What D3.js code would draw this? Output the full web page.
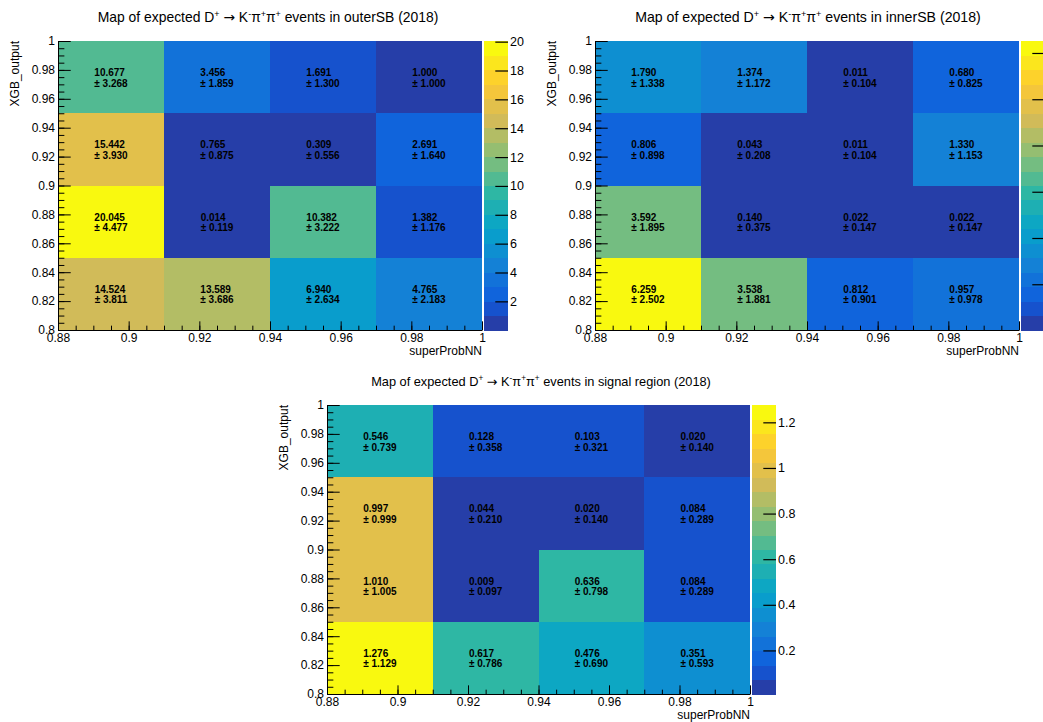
<!DOCTYPE html>
<html>
<head>
<meta charset="utf-8">
<script src="https://cdn.jsdelivr.net/npm/d3@7"></script>
<style>
  html, body { margin: 0; padding: 0; background: #fff; }
  svg { display: block; }
  text { font-family: "Liberation Sans", Arial, Helvetica, sans-serif; }
</style>
</head>
<body>
<svg id="chart" width="1043" height="722"></svg>
<script>
// ---------------- DATA ----------------
const xEdges = [0.88, 0.91, 0.94, 0.97, 1.0];
const yEdges = [0.80, 0.85, 0.90, 0.95, 1.0];

// rows listed from top (0.95-1.0) to bottom (0.80-0.85), columns left to right
const outerVals = [
  [10.677, 3.456, 1.691, 1.000],
  [15.442, 0.765, 0.309, 2.691],
  [20.045, 0.014, 10.382, 1.382],
  [14.524, 13.589, 6.940, 4.765]
];
const outerErrs = [
  [3.268, 1.859, 1.300, 1.000],
  [3.930, 0.875, 0.556, 1.640],
  [4.477, 0.119, 3.222, 1.176],
  [3.811, 3.686, 2.634, 2.183]
];
const innerVals = [
  [1.790, 1.374, 0.011, 0.680],
  [0.806, 0.043, 0.011, 1.330],
  [3.592, 0.140, 0.022, 0.022],
  [6.259, 3.538, 0.812, 0.957]
];
const innerErrs = [
  [1.338, 1.172, 0.104, 0.825],
  [0.898, 0.208, 0.104, 1.153],
  [1.895, 0.375, 0.147, 0.147],
  [2.502, 1.881, 0.901, 0.978]
];
const signalVals = [
  [0.546, 0.128, 0.103, 0.020],
  [0.997, 0.044, 0.020, 0.084],
  [1.010, 0.009, 0.636, 0.084],
  [1.276, 0.617, 0.476, 0.351]
];
const signalErrs = [
  [0.739, 0.358, 0.321, 0.140],
  [0.999, 0.210, 0.140, 0.289],
  [1.005, 0.097, 0.798, 0.289],
  [1.129, 0.786, 0.690, 0.593]
];
const regionNames = ["outerSB", "innerSB", "signal region"];
const outerZTicks = [2, 4, 6, 8, 10, 12, 14, 16, 18, 20];
const innerZTicks = [1, 2, 3, 4, 5, 6];
const signalZTicks = [0.2, 0.4, 0.6, 0.8, 1.0, 1.2];
const xMajorTicks = [0.88, 0.90, 0.92, 0.94, 0.96, 0.98, 1.0];
const yMajorTicks = [0.80, 0.82, 0.84, 0.86, 0.88, 0.90, 0.92, 0.94, 0.96, 0.98, 1.0];
const xTitle = "superProbNN";
const yTitle = "XGB_output";
const nContours = 20;

// ---------------- PALETTE (ROOT kBird) ----------------
const birdStops = [0.0, 0.125, 0.25, 0.375, 0.5, 0.625, 0.75, 0.875, 1.0];
const birdR = [0.2082, 0.0592, 0.0780, 0.0232, 0.1802, 0.5301, 0.8186, 0.9956, 0.9764];
const birdG = [0.1664, 0.3599, 0.5041, 0.6419, 0.7178, 0.7492, 0.7328, 0.7862, 0.9832];
const birdB = [0.5293, 0.8684, 0.8385, 0.7914, 0.6425, 0.4662, 0.3499, 0.1968, 0.0539];
const NCOL = 255;
const palette = [];
for (let g = 1; g < birdStops.length; g++) {
  const n = Math.floor(birdStops[g] * NCOL) - Math.floor(birdStops[g - 1] * NCOL);
  for (let c = 0; c < n; c++) {
    const r = birdR[g - 1] + c * (birdR[g] - birdR[g - 1]) / n;
    const gg = birdG[g - 1] + c * (birdG[g] - birdG[g - 1]) / n;
    const b = birdB[g - 1] + c * (birdB[g] - birdB[g - 1]) / n;
    palette.push(d3.rgb(r * 255, gg * 255, b * 255).formatHex());
  }
}
function levelColor(level) {
  let idx = Math.floor((level + 0.99) * NCOL / nContours);
  if (idx > NCOL - 1) idx = NCOL - 1;
  return palette[idx];
}
function valueColor(z, zmin, zmax) {
  const level = Math.floor(0.01 + (z - zmin) * nContours / (zmax - zmin));
  return levelColor(level);
}

// ---------------- LAYOUT ----------------
const panels = [
  { vals: outerVals, errs: outerErrs, name: regionNames[0], zTicks: outerZTicks, zLabels: true,
    x0: 58, x1: 482, y0: 41, y1: 330, titleCx: 268, titleY: 22, titleW: 341 },
  { vals: innerVals, errs: innerErrs, name: regionNames[1], zTicks: innerZTicks, zLabels: false,
    x0: 595, x1: 1019, y0: 41, y1: 330, titleCx: 808, titleY: 22, titleW: 346 },
  { vals: signalVals, errs: signalErrs, name: regionNames[2], zTicks: signalZTicks, zLabels: true,
    x0: 327, x1: 750, y0: 405, y1: 694, titleCx: 541, titleY: 386, titleW: 340 }
];

const svg = d3.select("#chart");
svg.append("rect").attr("width", 1043).attr("height", 722).attr("fill", "#fff");

const fmtTick = v => d3.format("~g")(+v.toFixed(4));

panels.forEach(p => {
  const g = svg.append("g");
  const x = d3.scaleLinear().domain([xEdges[0], xEdges[xEdges.length - 1]]).range([p.x0, p.x1]);
  const y = d3.scaleLinear().domain([yEdges[0], yEdges[yEdges.length - 1]]).range([p.y1, p.y0]);
  const flat = p.vals.flat();
  const zmin = d3.min(flat), zmax = d3.max(flat);

  // cells
  const nRows = p.vals.length;
  const cells = [];
  p.vals.forEach((row, ri) => {
    const yi = nRows - 1 - ri;
    row.forEach((v, xi) => {
      cells.push({ v, e: p.errs[ri][xi], xa: xEdges[xi], xb: xEdges[xi + 1], ya: yEdges[yi], yb: yEdges[yi + 1] });
    });
  });
  g.selectAll("rect.cell").data(cells).join("rect")
    .attr("class", "cell")
    .attr("x", d => x(d.xa)).attr("y", d => y(d.yb))
    .attr("width", d => x(d.xb) - x(d.xa)).attr("height", d => y(d.ya) - y(d.yb))
    .attr("fill", d => valueColor(d.v, zmin, zmax))
    .attr("shape-rendering", "crispEdges");

  // cell labels
  cells.forEach(d => {
    const cx = (x(d.xa) + x(d.xb)) / 2, cy = (y(d.ya) + y(d.yb)) / 2;
    const t1 = g.append("text").attr("y", cy - 1).attr("font-size", 10).attr("font-weight", "bold")
      .attr("fill", "#000").text(d.v.toFixed(3));
    const t2 = g.append("text").attr("y", cy + 9.6).attr("font-size", 10).attr("font-weight", "bold")
      .attr("fill", "#000").text("\u00b1 " + d.e.toFixed(3));
    const w = Math.max(t1.node().getComputedTextLength(), t2.node().getComputedTextLength());
    t1.attr("x", cx - w / 2);
    t2.attr("x", cx - w / 2);
  });

  // axes
  const xMinor = d3.range(0, 25).map(i => 0.88 + i * 0.005).filter(v => v <= 1.00001);
  const yMinor = d3.range(0, 41).map(i => 0.80 + i * 0.005).filter(v => v <= 1.00001);
  const xLen = p.x1 - p.x0, yLen = p.y1 - p.y0;
  const xTick = 0.03 * yLen, yTick = 0.03 * xLen;

  const gxm = g.append("g").attr("transform", `translate(0,${p.y1})`)
    .call(d3.axisBottom(x).tickValues(xMinor).tickSizeInner(-xTick / 2).tickSizeOuter(0).tickFormat(""));
  gxm.select(".domain").remove();
  const gx = g.append("g").attr("transform", `translate(0,${p.y1})`)
    .call(d3.axisBottom(x).tickValues(xMajorTicks).tickSizeInner(-xTick).tickSizeOuter(0).tickPadding(3).tickFormat(fmtTick));
  const gym = g.append("g").attr("transform", `translate(${p.x0},0)`)
    .call(d3.axisLeft(y).tickValues(yMinor).tickSizeInner(-yTick / 2).tickSizeOuter(0).tickFormat(""));
  gym.select(".domain").remove();
  const gy = g.append("g").attr("transform", `translate(${p.x0},0)`)
    .call(d3.axisLeft(y).tickValues(yMajorTicks).tickSizeInner(-yTick).tickSizeOuter(0).tickPadding(3).tickFormat(fmtTick));
  [gx, gy, gxm, gym].forEach(a => {
    a.selectAll("line").attr("stroke", "#000").attr("stroke-width", 1);
    a.selectAll(".domain").attr("stroke", "#000").attr("stroke-width", 1);
    a.selectAll("text").attr("font-size", 12).attr("fill", "#000")
      .attr("font-family", "Liberation Sans, Arial, sans-serif");
  });

  // axis titles
  g.append("text").attr("x", p.x1).attr("y", p.y1 + 25).attr("text-anchor", "end")
    .attr("font-size", 12).attr("fill", "#000").text(xTitle);
  g.append("text").attr("transform", `translate(${p.x0 - 39},${p.y0}) rotate(-90)`)
    .attr("text-anchor", "end").attr("font-size", 12).attr("fill", "#000").text(yTitle);

  // color bar
  const cbx0 = p.x1 + 2, cbx1 = p.x1 + 26;
  const z = d3.scaleLinear().domain([zmin, zmax]).range([p.y1, p.y0]);
  const bands = d3.range(nContours);
  const bh = yLen / nContours;
  g.selectAll("rect.band").data(bands).join("rect")
    .attr("class", "band")
    .attr("x", cbx0).attr("width", cbx1 - cbx0)
    .attr("y", i => z(zmin + (i + 1) * (zmax - zmin) / nContours))
    .attr("height", bh + 0.5)
    .attr("fill", i => levelColor(i))
    .attr("shape-rendering", "crispEdges");
  const gz = g.append("g").attr("transform", `translate(${cbx1},0)`)
    .call(d3.axisRight(z).tickValues(p.zTicks).tickSizeInner(-12.7).tickSizeOuter(0).tickPadding(2)
      .tickFormat(p.zLabels ? fmtTick : ""));
  gz.select(".domain").remove();
  gz.selectAll("line").attr("stroke", "#000").attr("stroke-width", 1.2);
  if (!p.zLabels) gz.selectAll("text").remove();
  gz.selectAll("text").attr("font-size", 12.5).attr("fill", "#000")
    .attr("font-family", "Liberation Sans, Arial, sans-serif");

  // title
  const base = 14, sup = 9;
  const t = svg.append("text").attr("x", p.titleCx).attr("y", p.titleY)
    .attr("text-anchor", "middle").attr("font-size", base).attr("fill", "#000");
  const parts = [
    ["Map of expected D", 0], ["+", 1], [" ", 0], ["\u2192", 2], [" K", 0], ["-", 1], ["\u03c0", 0], ["+", 1],
    ["\u03c0", 0], ["+", 1], [" events in " + p.name + " (2018)", 0]
  ];
  let shifted = false;
  parts.forEach(([s, kind]) => {
    const ts = t.append("tspan").text(s);
    if (kind === 1 && !shifted) { ts.attr("dy", -5).attr("font-size", sup); shifted = true; }
    else if (kind === 1) { ts.attr("font-size", sup); }
    else {
      if (shifted) { ts.attr("dy", 5); shifted = false; }
      if (kind === 2) ts.attr("font-family", "DejaVu Sans").attr("data-arrow", 1);
    }
  });
  const tw = t.node().getComputedTextLength();
  const scale = p.titleW / tw;
  t.attr("font-size", base * scale);
  t.selectAll("tspan").each(function () {
    const el = d3.select(this);
    if (el.attr("font-size")) el.attr("font-size", sup * scale);
    if (el.attr("dy")) el.attr("dy", +el.attr("dy") * scale);
  });
});
</script>
</body>
</html>
